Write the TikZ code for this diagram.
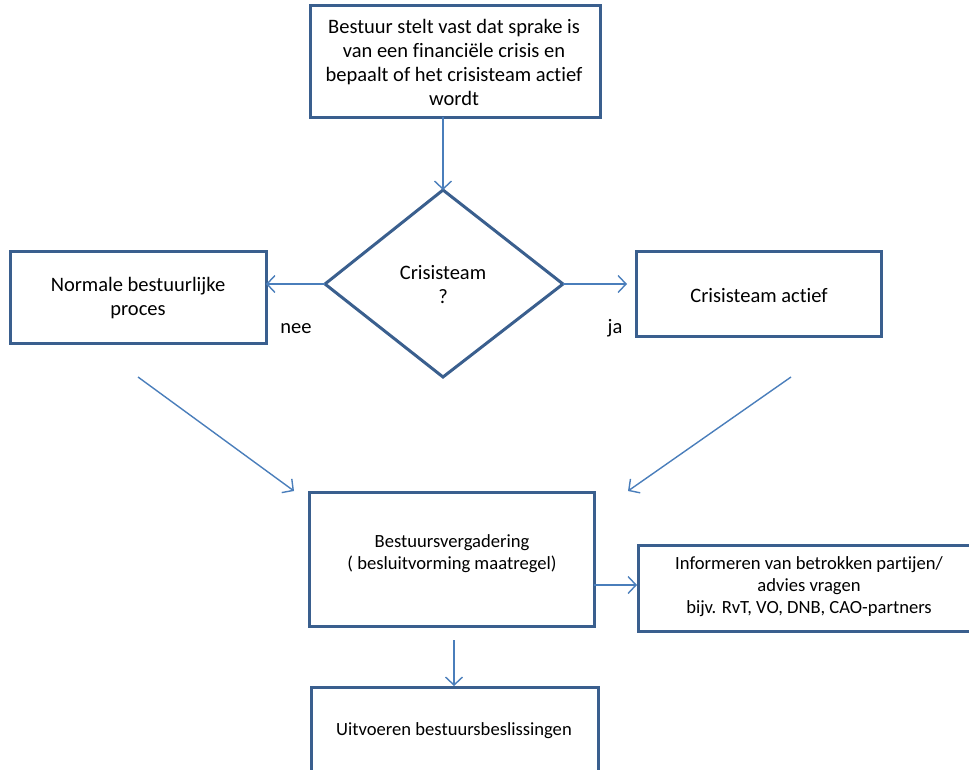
\documentclass[tikz,border=0pt]{standalone}
\usepackage{fontspec}
\setmainfont[Ligatures={NoCommon,NoRare,NoDiscretionary}]{Carlito}
\usetikzlibrary{arrows.meta,calc}
\definecolor{boxc}{HTML}{3A5F8E}
\definecolor{arrc}{HTML}{4A7EBB}
\tikzset{
  boxline/.style={draw=boxc,line width=3pt},
  conn/.style={draw=arrc,line width=1.4pt,-{Straight Barb[length=8pt,width=17pt,line width=1.4pt]}},
  lbl/.style={font=\fontsize{20.5}{24}\selectfont,align=center,text=black,inner sep=0pt},
  lbls/.style={font=\fontsize{18.6}{22}\selectfont,align=center,text=black,inner sep=0pt},
}
\begin{document}
\begin{tikzpicture}[x=1pt,y=-1pt]
\useasboundingbox (0,0) rectangle (969,769);
\clip (0,0) rectangle (969,769);
\path[boxline] (310,5) rectangle (600,117);
\coordinate (topb) at (443,117);
\node[lbl] (toptxt) at (454,62.5) {Bestuur stelt vast dat sprake is\\van een financiële crisis en\\bepaalt of het crisisteam actief\\wordt};

\path[boxline] (443,190) coordinate (dt) -- (563,284) coordinate (dr) -- (443,377) coordinate (db) -- (325,284) coordinate (dl) -- cycle;
\node[lbl] (dtxt) at (443,284.5) {Crisisteam\\?};

\path[boxline] (10,251) rectangle (266,343);
\coordinate (lbr) at (266,284);
\node[lbl] (ltxt) at (138,298.5) {Normale bestuurlijke\\proces};

\path[boxline] (636,251) rectangle (881,336);
\coordinate (rbl) at (627,284);
\node[lbl] (rtxt) at (759,296) {Crisisteam actief};

\node[lbl,anchor=base] (nee) at (296,333) {nee};
\node[lbl,anchor=base] (ja) at (615,333) {ja};

\path[boxline] (309,492) rectangle (594,626);
\node[lbls] (mtxt) at (452,554) {Bestuursvergadering\\( besluitvorming maatregel)};

\path[boxline] (638,545) rectangle (1000,631);
\node[lbls] (itxt) at (809,587) {Informeren van betrokken partijen/\\advies vragen\\bijv. RvT, VO, DNB, CAO-partners};

\path[boxline] (311,687) rectangle (598,800);
\node[lbls] (btxt) at (454,731) {Uitvoeren bestuursbeslissingen};

\coordinate (l1) at (138,377);
\coordinate (l2) at (294,491);
\coordinate (r1) at (791,377);
\coordinate (r2) at (628,491);
\coordinate (m1) at (594,585);
\coordinate (m2) at (637,585);
\coordinate (b1) at (454,640);
\coordinate (b2) at (454,686);

\draw[conn] (topb) -- (dt);
\draw[conn] (dl) -- (lbr);
\draw[conn] (dr) -- (rbl);
\draw[conn] (l1) -- (l2);
\draw[conn] (r1) -- (r2);
\draw[conn] (m1) -- (m2);
\draw[conn] (b1) -- (b2);
\end{tikzpicture}
\end{document}
